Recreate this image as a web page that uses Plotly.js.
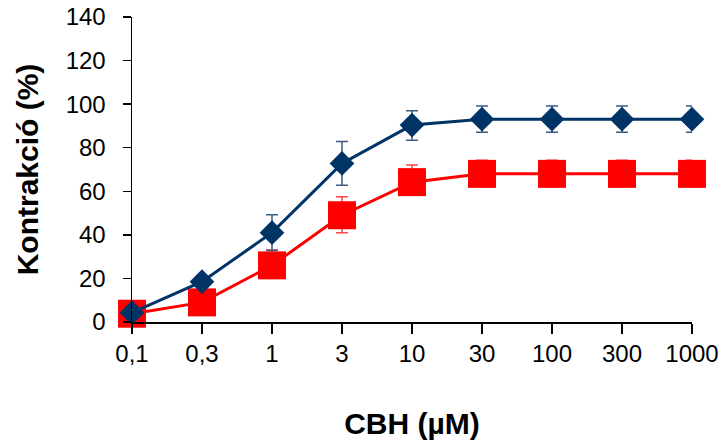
<!DOCTYPE html>
<html>
<head>
<meta charset="utf-8">
<script src="https://cdn.plot.ly/plotly-3.0.1.min.js"></script>
<style>html,body{margin:0;padding:0;background:#fff;}#chart{width:723px;height:447px;}</style>
</head>
<body>
<div id="chart"></div>
<script>
const categories = ["0,1", "0,3", "1", "3", "10", "30", "100", "300", "1000"];
const blueValues = [4.3, 18.5, 41, 72.8, 90.4, 93.1, 93.1, 93.1, 93.1];
const blueErrorsPlus = [1.5, 2, 8.2, 10, 6.6, 6, 6, 6, 6];
const blueErrorsMinus = [1.5, 2, 8.2, 10, 7, 6, 6, 6, 6];
const redValues = [3.8, 9, 26, 49, 64.2, 68, 68, 68, 68];
const redErrorsPlus = [1, 2, 7, 8.5, 7.9, 6.2, 6.2, 6.2, 6.2];
const redErrorsMinus = [1, 2, 5, 8, 5, 5, 5, 5, 5];
const yTicks = [0, 20, 40, 60, 80, 100, 120, 140];

const font = "Liberation Sans, Arial, Helvetica, sans-serif";

const traces = [
  {
    x: categories, y: redValues, type: "scatter", mode: "lines+markers",
    line: {color: "#FF0000", width: 3},
    marker: {symbol: "square", size: 28, color: "#FF0000"},
    error_y: {type: "data", symmetric: false, array: redErrorsPlus, arrayminus: redErrorsMinus, visible: true, color: "#FF4444", thickness: 1.5, width: 6},
    cliponaxis: false, showlegend: false
  },
  {
    x: categories, y: blueValues, type: "scatter", mode: "lines+markers",
    line: {color: "#003366", width: 3},
    marker: {symbol: "diamond", size: 19, color: "#003366"},
    error_y: {type: "data", symmetric: false, array: blueErrorsPlus, arrayminus: blueErrorsMinus, visible: true, color: "#3A5C80", thickness: 1.5, width: 6},
    cliponaxis: false, showlegend: false
  }
];

const layout = {
  width: 723, height: 447,
  margin: {l: 132, r: 31, t: 17, b: 125, pad: 0},
  paper_bgcolor: "#ffffff", plot_bgcolor: "#ffffff",
  font: {family: font, color: "#000000"},
  xaxis: {
    type: "category", range: [0, 8], categoryorder: "array", categoryarray: categories,
    showline: true, linecolor: "#000000", linewidth: 1.5,
    ticks: "outside", ticklen: 10, tickwidth: 1.5, tickcolor: "#000000",
    showgrid: false, zeroline: false, automargin: false,
    tickfont: {family: font, size: 24, color: "#000000"},
    ticklabelstandoff: 0,
    title: {text: "CBH (µM)", font: {family: font, size: 30, color: "#000000", weight: "bold"}, standoff: 46}
  },
  yaxis: {
    range: [0, 140], tickvals: yTicks, ticktext: yTicks.map(String),
    showline: true, linecolor: "#000000", linewidth: 1.5,
    ticks: "outside", ticklen: 8, tickwidth: 1.5, tickcolor: "#000000",
    showgrid: false, zeroline: false, automargin: false,
    tickfont: {family: font, size: 24, color: "#000000"},
    ticklabelstandoff: 12,
    title: {text: "Kontrakció (%)", font: {family: font, size: 30, color: "#000000", weight: "bold"}, standoff: 18}
  }
};

Plotly.newPlot("chart", traces, layout, {staticPlot: true, displayModeBar: false});
</script>
</body>
</html>
